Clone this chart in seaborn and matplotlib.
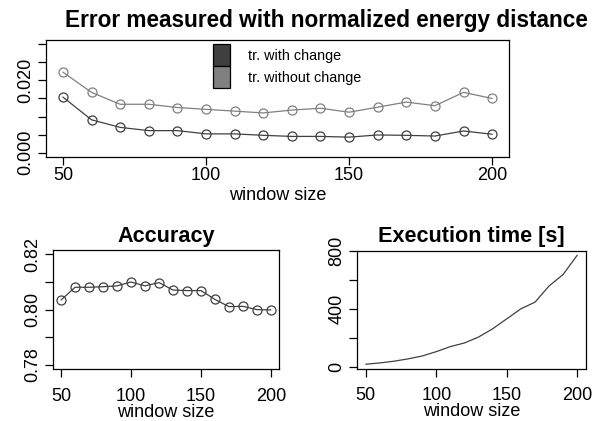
import numpy as np
import pandas as pd
import matplotlib
matplotlib.use("Agg")
import matplotlib.pyplot as plt
from matplotlib.patches import Patch
import seaborn as sns

# ---------------------------------------------------------------
# DATA
# ---------------------------------------------------------------
window_size = [50, 60, 70, 80, 90, 100, 110, 120, 130, 140, 150, 160, 170, 180, 190, 200]

err_with_change = [0.0154, 0.0091, 0.0070, 0.0061, 0.0061, 0.0052, 0.0052, 0.0048,
                   0.0045, 0.0045, 0.0043, 0.0049, 0.0048, 0.0046, 0.0060, 0.0051]
err_without_change = [0.0223, 0.0167, 0.0134, 0.0134, 0.0125, 0.0120, 0.0115, 0.0110,
                      0.0118, 0.0123, 0.0112, 0.0126, 0.0140, 0.0130, 0.0167, 0.0150]

accuracy = [0.8035, 0.8081, 0.8081, 0.8083, 0.8086, 0.8100, 0.8086, 0.8098,
            0.8071, 0.8069, 0.8069, 0.8037, 0.8011, 0.8012, 0.8000, 0.7999]

exec_time = [16, 25, 37, 53, 73, 103, 138, 163, 204, 261, 330, 399, 445, 557, 637, 770]

series_labels = ["tr. with change", "tr. without change"]
series_colors = ["#404040", "#808080"]

# ---------------------------------------------------------------
# STYLE (R base-graphics look)
# ---------------------------------------------------------------
sns.set_style("ticks")
plt.rcParams["font.family"] = ["Liberation Sans", "DejaVu Sans"]
plt.rcParams["axes.linewidth"] = 0.9
plt.rcParams["axes.edgecolor"] = "black"
plt.rcParams["text.color"] = "black"
plt.rcParams["axes.labelcolor"] = "black"
plt.rcParams["xtick.color"] = "black"
plt.rcParams["ytick.color"] = "black"
plt.rcParams["xtick.major.size"] = 5.5
plt.rcParams["ytick.major.size"] = 5.5
plt.rcParams["xtick.major.width"] = 0.9
plt.rcParams["ytick.major.width"] = 0.9
plt.rcParams["xtick.labelsize"] = 13
plt.rcParams["ytick.labelsize"] = 13
plt.rcParams["axes.labelsize"] = 13

fig = plt.figure(figsize=(6, 4.21), dpi=100)
ax_err = fig.add_axes([0.0762, 0.6271, 0.7727, 0.2779])
ax_acc = fig.add_axes([0.0878, 0.1228, 0.3777, 0.2834])
ax_time = fig.add_axes([0.5955, 0.1242, 0.3807, 0.2803])


def r_style(ax, yticks, ylabels, xpad):
    for sp in ax.spines.values():
        sp.set_visible(True)
    ax.set_xticks([50, 100, 150, 200])
    ax.set_yticks(yticks)
    ax.set_yticklabels(ylabels, rotation=90, va="center")
    ax.tick_params(axis="x", pad=xpad)
    ax.tick_params(axis="y", pad=3)
    ax.set_xlim(44, 206)


# ---------------------------------------------------------------
# 1) ERROR (normalized energy distance)
# ---------------------------------------------------------------
err_df = pd.DataFrame({
    "window": window_size * 2,
    "error": err_with_change + err_without_change,
    "series": [series_labels[0]] * len(window_size) + [series_labels[1]] * len(window_size),
})
for lab, col in zip(series_labels, series_colors):
    sns.lineplot(data=err_df[err_df["series"] == lab], x="window", y="error", ax=ax_err,
                 color=col, lw=0.9, marker="o", markersize=6.5, mfc="none", mec=col,
                 mew=0.9, legend=False)
r_style(ax_err, [0, 0.005, 0.010, 0.015, 0.020, 0.025, 0.030],
        ["0.000", "", "", "", "0.020", "", ""], xpad=2)
ax_err.set_ylim(-0.0012, 0.0312)
ax_err.set_xlabel("window size", labelpad=2)
ax_err.set_ylabel("")
ax_err.set_title("Error measured with normalized energy distance", fontsize=16.3,
                 fontweight="bold", x=0.605, pad=9.5)
handles = [Patch(facecolor=c, edgecolor="black", lw=0.9) for c in series_colors]
ax_err.legend(handles, series_labels, loc="upper left", bbox_to_anchor=(0.361, 0.963),
              frameon=False, fontsize=10.4, handlelength=1.18, handleheight=1.95,
              labelspacing=0.0, handletextpad=1.25, borderpad=0, borderaxespad=0)

# ---------------------------------------------------------------
# 2) ACCURACY
# ---------------------------------------------------------------
sns.lineplot(x=window_size, y=accuracy, ax=ax_acc, color="#404040", lw=0.9,
             marker="o", markersize=6.5, mfc="none", mec="#404040", mew=0.9)
r_style(ax_acc, [0.78, 0.79, 0.80, 0.81, 0.82], ["0.78", "", "0.80", "", "0.82"], xpad=8)
ax_acc.set_ylim(0.7784, 0.8216)
ax_acc.set_xlabel("window size", labelpad=-1)
ax_acc.set_title("Accuracy", fontsize=15.6, fontweight="bold", pad=6)

# ---------------------------------------------------------------
# 3) EXECUTION TIME
# ---------------------------------------------------------------
sns.lineplot(x=window_size, y=exec_time, ax=ax_time, color="#404040", lw=0.9)
r_style(ax_time, [0, 200, 400, 600, 800], ["0", "", "400", "", "800"], xpad=8)
ax_time.set_ylim(-15, 801)
ax_time.set_xlabel("window size", labelpad=-1)
ax_time.set_title("Execution time [s]", fontsize=15.6, fontweight="bold", pad=6.5)

fig.savefig("out.png", dpi=100)
